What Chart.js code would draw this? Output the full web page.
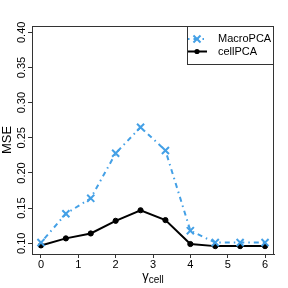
<!DOCTYPE html>
<html><head><meta charset="utf-8">
<script src="https://cdn.jsdelivr.net/npm/chart.js@4.4.1/dist/chart.umd.min.js"></script>
<style>html,body{margin:0;padding:0;background:#fff}#wrap{width:288px;height:288px}</style>
</head><body><div id="wrap"><canvas id="c" width="288" height="288"></canvas></div>
<script>
const gammaCell = [0, 0.667, 1.333, 2, 2.667, 3.333, 4, 4.667, 5.333, 6];
const macroPCA = [0.101, 0.142, 0.164, 0.228, 0.265, 0.232, 0.118, 0.101, 0.101, 0.101];
const cellPCA  = [0.097, 0.107, 0.114, 0.132, 0.147, 0.133, 0.099, 0.096, 0.096, 0.096];
const xTicks = [0, 1, 2, 3, 4, 5, 6];
const yTicks = [0.10, 0.15, 0.20, 0.25, 0.30, 0.35, 0.40];
const seriesNames = ['MacroPCA', 'cellPCA'];
const yTitle = 'MSE';
const xTitleMain = 'γ';
const xTitleSub = 'cell';

const BLUE = '#44a0e6';
const FONT = '"Liberation Sans", Arial, sans-serif';

function pts(xs, ys) { return xs.map((x, i) => ({x: x, y: ys[i]})); }

const boxPlugin = {
  id: 'boxPlugin',
  afterDraw(chart) {
    const ctx = chart.ctx, a = chart.chartArea;
    ctx.save();
    ctx.strokeStyle = '#333';
    ctx.lineWidth = 1;
    ctx.strokeRect(Math.round(a.left) + 0.5, Math.round(a.top) + 0.5,
                   Math.round(a.right - a.left) - 1, Math.round(a.bottom - a.top));
    // legend
    const lx = 187, ly = 26, lw = a.right - 187, lh = 38;
    ctx.fillStyle = '#fff';
    ctx.fillRect(lx + 0.5, ly + 0.5, lw, lh);
    ctx.strokeRect(lx + 0.5, ly + 0.5, lw - 1, lh);
    const ds = chart.data.datasets;
    const rows = [39, 51.5];
    ds.forEach((d, i) => {
      const y = rows[i];
      ctx.save();
      ctx.strokeStyle = d.borderColor;
      ctx.lineWidth = d.borderWidth;
      ctx.setLineDash(d.borderDash || []);
      ctx.beginPath(); ctx.moveTo(188, y); ctx.lineTo(207, y); ctx.stroke();
      ctx.setLineDash([]);
      ctx.lineWidth = d.pointBorderWidth;
      const r = d.pointRadius, cx = 197;
      if (d.pointStyle === 'crossRot') {
        const o = r * Math.SQRT1_2;
        ctx.beginPath();
        ctx.moveTo(cx - o, y - o); ctx.lineTo(cx + o, y + o);
        ctx.moveTo(cx - o, y + o); ctx.lineTo(cx + o, y - o);
        ctx.stroke();
      } else {
        ctx.fillStyle = d.pointBackgroundColor;
        ctx.beginPath(); ctx.arc(cx, y, r, 0, Math.PI * 2); ctx.fill();
      }
      ctx.restore();
      ctx.fillStyle = '#000';
      ctx.font = '11px ' + FONT;
      ctx.textAlign = 'left'; ctx.textBaseline = 'middle';
      ctx.fillText(d.label, 218, y);
    });
    // x title with subscript
    ctx.fillStyle = '#000';
    ctx.textBaseline = 'alphabetic';
    ctx.font = '13px ' + FONT;
    const w1 = ctx.measureText(xTitleMain).width;
    ctx.font = '10px ' + FONT;
    const w2 = ctx.measureText(xTitleSub).width;
    const cx = (a.left + a.right) / 2;
    let sx = cx - (w1 + w2) / 2;
    ctx.font = '13px ' + FONT;
    ctx.textAlign = 'left';
    ctx.fillText(xTitleMain, sx, 280);
    ctx.font = '10px ' + FONT;
    ctx.fillText(xTitleSub, sx + w1, 283);
    ctx.restore();
  }
};

new Chart(document.getElementById('c'), {
  type: 'scatter',
  data: {
    datasets: [
      {
        label: seriesNames[0], data: pts(gammaCell, macroPCA), showLine: true,
        borderColor: BLUE, borderWidth: 2, borderDash: [1.5, 4, 5, 4],
        pointStyle: 'crossRot', pointRadius: 5, pointBorderWidth: 2,
        pointBorderColor: BLUE, pointBackgroundColor: BLUE, tension: 0
      },
      {
        label: seriesNames[1], data: pts(gammaCell, cellPCA), showLine: true,
        borderColor: '#000', borderWidth: 2,
        pointStyle: 'circle', pointRadius: 2.6, pointBorderWidth: 1,
        pointBorderColor: '#000', pointBackgroundColor: '#000', tension: 0
      }
    ]
  },
  options: {
    responsive: false, animation: false, devicePixelRatio: 1,
    layout: { padding: { top: 26, right: 14, left: 0, bottom: 0 } },
    plugins: { legend: { display: false }, tooltip: { enabled: false } },
    scales: {
      x: {
        type: 'linear', min: -0.24, max: 6.24,
        afterBuildTicks: s => { s.ticks = xTicks.map(v => ({value: v})); },
        afterFit: s => { s.height = 34; },
        ticks: { font: { size: 11, family: FONT }, color: '#000', padding: 0,
                 callback: v => String(v) },
        grid: { drawOnChartArea: false, drawTicks: true, tickLength: 4, color: '#333' },
        border: { display: true, color: '#333' }
      },
      y: {
        type: 'linear', min: 0.0848, max: 0.409,
        afterBuildTicks: s => { s.ticks = yTicks.map(v => ({value: v})); },
        afterFit: s => { s.width = 32; },
        ticks: { font: { size: 11, family: FONT }, color: '#000', padding: -4.4,
                 minRotation: 90, maxRotation: 90, crossAlign: 'center',
                 callback: v => v.toFixed(2) },
        grid: { drawOnChartArea: false, drawTicks: true, tickLength: 4, color: '#333' },
        border: { display: true, color: '#333' },
        title: { display: true, text: yTitle, font: { size: 13, family: FONT }, color: '#000',
                 padding: { top: 0, bottom: 0 } }
      }
    }
  },
  plugins: [boxPlugin]
});
</script></body></html>
